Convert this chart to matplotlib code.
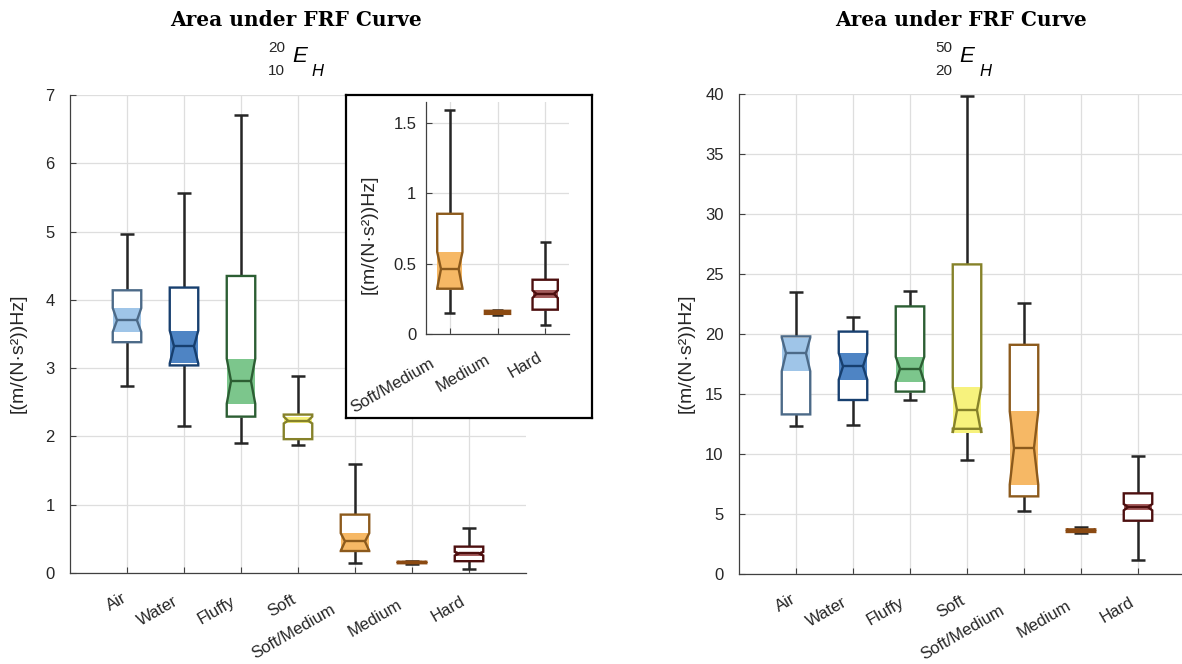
import matplotlib
matplotlib.use('Agg')
import matplotlib.pyplot as plt
import numpy as np
from matplotlib.patches import Polygon

plt.rcParams['font.family'] = ['Liberation Sans', 'DejaVu Sans']

DPI = 100
TXT = '#262626'
SPINE = '#404040'
GRID = '#dedede'

categories = ['Air', 'Water', 'Fluffy', 'Soft', 'Soft/Medium', 'Medium', 'Hard']
edge_colors = ['#4c6a88', '#173f6f', '#2c5e33', '#86822a', '#8c5a1c', '#8b4a12', '#4d0f0f']
fill_colors = ['#9fc5e8', '#4e84c4', '#7cc68c', '#f7f27d', '#f6b865', '#a0581a', '#a45c5c']

# 10-20 Hz band
lo_whisker_lo = [2.74, 2.15, 1.91, 1.88, 0.149, 0.135, 0.061]
lo_q1         = [3.38, 3.04, 2.29, 1.96, 0.322, 0.143, 0.173]
lo_notch_lo   = [3.53, 3.07, 2.48, 2.19, 0.325, 0.148, 0.256]
lo_median     = [3.70, 3.32, 2.81, 2.23, 0.462, 0.155, 0.286]
lo_notch_hi   = [3.88, 3.55, 3.14, 2.29, 0.583, 0.162, 0.310]
lo_q3         = [4.14, 4.18, 4.35, 2.32, 0.855, 0.165, 0.386]
lo_whisker_hi = [4.97, 5.56, 6.70, 2.89, 1.595, 0.172, 0.656]

# 20-50 Hz band
hi_whisker_lo = [12.3, 12.4, 14.5, 9.5, 5.27, 3.45, 1.19]
hi_q1         = [13.3, 14.5, 15.2, 12.1, 6.47, 3.50, 4.44]
hi_notch_lo   = [16.9, 16.2, 16.0, 11.75, 7.45, 3.55, 5.30]
hi_median     = [18.4, 17.3, 17.1, 13.65, 10.5, 3.62, 5.58]
hi_notch_hi   = [19.7, 18.4, 18.1, 15.55, 13.55, 3.68, 5.83]
hi_q3         = [19.8, 20.2, 22.3, 25.8, 19.1, 3.72, 6.72]
hi_whisker_hi = [23.5, 21.4, 23.6, 39.85, 22.6, 3.92, 9.86]

inset_idx = [4, 5, 6]

left_yticks = [0, 1, 2, 3, 4, 5, 6, 7]
right_yticks = [0, 5, 10, 15, 20, 25, 30, 35, 40]
inset_yticks = [0, 0.5, 1, 1.5]
inset_yticklabels = ['0', '0.5', '1', '1.5']
ylabel = '[(m/(N·s²))Hz]'
title = 'Area under FRF Curve'

fig = plt.figure(figsize=(11.82, 6.64), dpi=DPI)


def draw_box(ax, x, wlo, q1, nlo, med, nhi, q3, whi, edge, fill, w=0.5, capw=0.23):
    kw = dict(color=TXT, lw=1.8, solid_capstyle='butt', zorder=3)
    ax.plot([x, x], [q3, whi], **kw)
    ax.plot([x, x], [wlo, q1], **kw)
    ax.plot([x - capw / 2, x + capw / 2], [whi, whi], **kw)
    ax.plot([x - capw / 2, x + capw / 2], [wlo, wlo], **kw)
    hw = w / 2
    nw = 0.35 * w
    verts = [(x - hw, q1), (x - hw, nlo), (x - nw, med), (x - hw, nhi), (x - hw, q3),
             (x + hw, q3), (x + hw, nhi), (x + nw, med), (x + hw, nlo), (x + hw, q1)]
    ax.add_patch(Polygon(verts, closed=True, facecolor='white', edgecolor='none', zorder=4))
    ax.bar(x, nhi - nlo, bottom=nlo, width=w, color=fill, lw=0, zorder=5)
    ax.add_patch(Polygon(verts, closed=True, facecolor='none', edgecolor=edge, lw=1.7,
                         zorder=6, joinstyle='miter'))
    ax.plot([x - nw, x + nw], [med, med], color=edge, lw=1.7, zorder=7, solid_capstyle='butt')


def style(ax, xlim, ylim, yticks, yticklabels=None, pad=11):
    ax.set_xlim(*xlim)
    ax.set_ylim(*ylim)
    ax.set_yticks(yticks)
    if yticklabels is not None:
        ax.set_yticklabels(yticklabels)
    ax.grid(True, color=GRID, lw=0.9)
    ax.set_axisbelow(True)
    for s in ['top', 'right']:
        ax.spines[s].set_visible(False)
    for s in ['left', 'bottom']:
        ax.spines[s].set_color(SPINE)
        ax.spines[s].set_linewidth(0.9)
    ax.tick_params(direction='in', length=4, width=0.8, colors=SPINE, labelcolor=TXT,
                   labelsize=12)
    ax.tick_params(axis='y', pad=pad)


renderer = fig.canvas.get_renderer()


def place_xlabels(ax, positions, labels, fs, py_px, f=0.3, px_off=4):
    c, s = np.cos(np.radians(30)), np.sin(np.radians(30))
    for x, lab in zip(positions, labels):
        t = fig.text(0, 0, lab, fontsize=fs)
        L = t.get_window_extent(renderer).width
        t.remove()
        dx = px_off - f * L * c
        dy = -py_px - f * L * s
        ax.annotate(lab, xy=(x, 0), xycoords=('data', 'axes fraction'),
                    xytext=(dx * 72 / DPI, dy * 72 / DPI), textcoords='offset points',
                    rotation=30, rotation_mode='anchor', ha='right', va='center',
                    fontsize=fs, color=TXT, annotation_clip=False)


def px_rect(x0, y0, x1, y1):
    W, H = 1182, 664
    return [x0 / W, 1 - y1 / H, (x1 - x0) / W, (y1 - y0) / H]


positions = np.arange(1, len(categories) + 1)

# ---------- left axes ----------
axL = fig.add_axes(px_rect(70, 95, 526, 573))
style(axL, (0, 8), (0, 7), left_yticks)
axL.set_xticks(positions)
axL.set_xticklabels([])
for i in range(len(categories)):
    draw_box(axL, positions[i], lo_whisker_lo[i], lo_q1[i], lo_notch_lo[i], lo_median[i],
             lo_notch_hi[i], lo_q3[i], lo_whisker_hi[i], edge_colors[i], fill_colors[i])
axL.set_ylabel(ylabel, fontsize=14, color=TXT)
axL.yaxis.set_label_coords(-0.095, 0.46)
place_xlabels(axL, positions, categories, 12, 21)

# ---------- inset frame ----------
frame = fig.add_axes(px_rect(346, 95, 592, 418))
frame.set_xticks([])
frame.set_yticks([])
frame.set_facecolor('white')
for s in frame.spines.values():
    s.set_linewidth(1.6)
    s.set_color('black')

# ---------- inset axes ----------
axI = fig.add_axes(px_rect(426, 102, 569, 334))
axI.set_facecolor('white')
style(axI, (0.5, 3.5), (0, 1.65), inset_yticks, inset_yticklabels, pad=7)
ipos = np.arange(1, len(inset_idx) + 1)
axI.set_xticks(ipos)
axI.set_xticklabels([])
for k, i in enumerate(inset_idx):
    draw_box(axI, ipos[k], lo_whisker_lo[i], lo_q1[i], lo_notch_lo[i], lo_median[i],
             lo_notch_hi[i], lo_q3[i], lo_whisker_hi[i], edge_colors[i], fill_colors[i],
             w=0.53, capw=0.23)
axI.set_ylabel(ylabel, fontsize=14, color=TXT)
axI.yaxis.set_label_coords(-0.34, 0.43)
place_xlabels(axI, ipos, [categories[i] for i in inset_idx], 12, 17, f=0.25)

# ---------- right axes ----------
axR = fig.add_axes(px_rect(739, 94, 1195, 574))
style(axR, (0, 8), (0, 40), right_yticks)
axR.set_xticks(positions)
axR.set_xticklabels([])
for i in range(len(categories)):
    draw_box(axR, positions[i], hi_whisker_lo[i], hi_q1[i], hi_notch_lo[i], hi_median[i],
             hi_notch_hi[i], hi_q3[i], hi_whisker_hi[i], edge_colors[i], fill_colors[i])
axR.set_ylabel(ylabel, fontsize=14, color=TXT)
axR.yaxis.set_label_coords(-0.098, 0.46)
place_xlabels(axR, positions, categories, 12, 21)

# ---------- titles ----------
W, H = 1182, 664
for cx, sup, sub, ex, hx in [(296, '20', '10', 292, 311), (961, '50', '20', 959, 979)]:
    fig.text(cx / W, 1 - 20 / H, title, ha='center', va='center', fontsize=14.5,
             fontweight='bold', family='DejaVu Serif', color='black')
    fig.text((ex - 7) / W, 1 - 48 / H, sup, ha='right', va='center', fontsize=11, color=TXT)
    fig.text((ex - 7) / W, 1 - 71 / H, sub, ha='right', va='center', fontsize=11, color=TXT)
    fig.text(ex / W, 1 - 57 / H, 'E', ha='left', va='center', fontsize=16,
             style='italic', color='black')
    fig.text(hx / W, 1 - 71 / H, 'H', ha='left', va='center', fontsize=12,
             style='italic', color='black')

fig.savefig('out.png', dpi=DPI)
